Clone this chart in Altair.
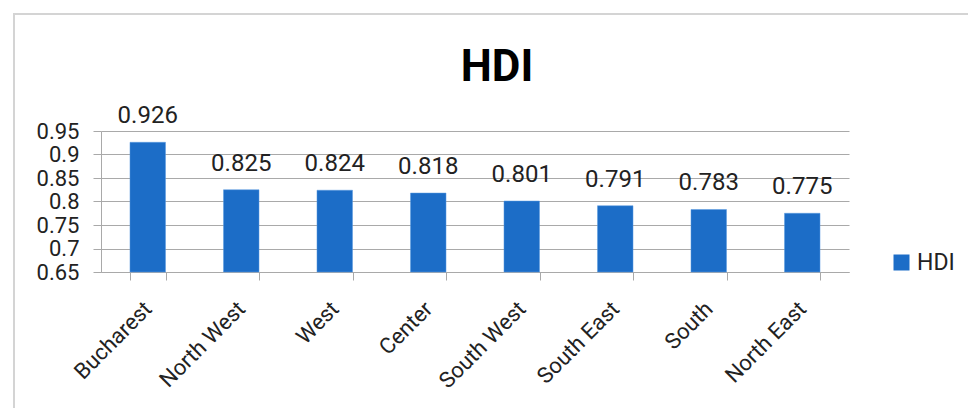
import altair as alt
import pandas as pd

regions = ["Bucharest", "North West", "West", "Center", "South West", "South East", "South", "North East"]
hdi = [0.926, 0.825, 0.824, 0.818, 0.801, 0.791, 0.783, 0.775]
series = ["HDI"] * len(regions)
y_ticks = [0.65, 0.7, 0.75, 0.8, 0.85, 0.9, 0.95]

df = pd.DataFrame({"region": regions, "hdi": hdi, "series": series})

FONT = "Roboto"
BLUE = "#1C6DC7"
GRAY = "#A9A9A9"

base = alt.Chart(df)

x_enc = alt.X("region:N", sort=regions, title=None,
              scale=alt.Scale(paddingInner=0.62, paddingOuter=0.31),
              axis=alt.Axis(labelAngle=-45, labelAlign="right", labelBaseline="middle",
                            labelFontSize=22, labelFont=FONT, labelColor="#222222",
                            labelPadding=25, tickBand="extent", tickSize=8,
                            tickColor=GRAY, domainColor=GRAY, grid=False,
                            labelOverlap=False))
y_enc = alt.Y("hdi:Q", title=None,
              scale=alt.Scale(domain=[0.65, 0.95], zero=False, nice=False),
              axis=alt.Axis(values=y_ticks, tickCount=len(y_ticks),
                            labelExpr="format(datum.value, '.2~f')",
                            labelFontSize=22, labelFont=FONT, labelColor="#222222",
                            labelPadding=14, tickSize=8, tickColor=GRAY, domainColor=GRAY,
                            grid=True, gridColor=GRAY, gridWidth=1,
                            labelOverlap=False, labelBound=False))

bars = base.mark_bar(stroke="#5A9BE0", strokeWidth=0.5).encode(
    x=x_enc,
    y=y_enc,
    y2=alt.datum(0.65),
    color=alt.Color("series:N", title=None,
                    scale=alt.Scale(domain=["HDI"], range=[BLUE]),
                    legend=alt.Legend(orient="none", legendX=789, legendY=120,
                                      symbolType="square", symbolSize=256,
                                      symbolStrokeWidth=0, labelFontSize=23,
                                      labelFont=FONT, labelColor="#222222",
                                      labelOffset=4, padding=0)),
)

labels = base.mark_text(font=FONT, fontSize=24, color="#222222", dy=-19,
                        baseline="alphabetic", align="center").encode(
    x=alt.X("region:N", sort=regions),
    y=alt.Y("hdi:Q"),
    text=alt.Text("hdi:Q", format=".3f"),
)

frame = alt.Chart(pd.DataFrame({"f": [0]})).mark_rect(
    fill=None, stroke="#D4D4D4", strokeWidth=2).encode(
    x=alt.value(-87), x2=alt.value(1000), y=alt.value(-117), y2=alt.value(1000))

chart = alt.layer(frame, bars, labels).properties(
    width=748, height=141,
    title=alt.TitleParams("HDI", font=FONT, fontSize=44, fontWeight="bold",
                          color="#000000", anchor="middle", dx=22, offset=0,
                          baseline="alphabetic", dy=112),
    autosize=alt.AutoSizeParams(type="none"),
    padding={"left": 93, "top": 123, "right": 119, "bottom": 136},
).configure_view(stroke=None)

chart.save("out.html", embed_options={"renderer": "svg", "actions": False})
